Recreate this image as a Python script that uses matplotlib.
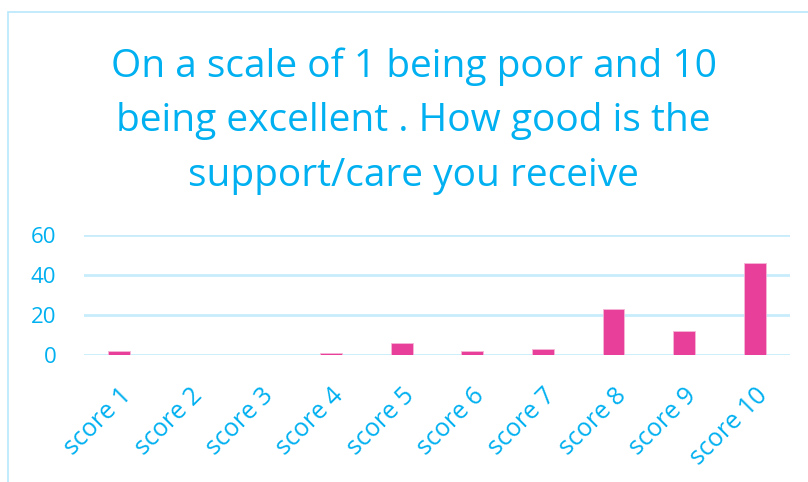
import matplotlib

matplotlib.use("Agg")
import matplotlib.pyplot as plt
from matplotlib.patches import Rectangle

categories = ["score 1", "score 2", "score 3", "score 4", "score 5",
              "score 6", "score 7", "score 8", "score 9", "score 10"]
counts = [2, 0, 0, 1, 6, 2, 3, 23, 12, 46]
y_ticks = [0, 20, 40, 60]

title = "On a scale of 1 being poor and 10\nbeing excellent . How good is the\nsupport/care you receive"

BLUE = "#00b0f0"
PINK = "#e8409a"
GRID = "#c8ecfb"

plt.rcParams["font.family"] = ["Open Sans", "DejaVu Sans"]

fig = plt.figure(figsize=(8.08, 4.82), dpi=100)
fig.patches.append(Rectangle((8 / 808, -0.1), 1.2, 1 - 12 / 482 + 0.1,
                             transform=fig.transFigure, fill=False,
                             edgecolor="#b8e8fb", linewidth=1.2))

ax = fig.add_axes([84 / 808, 1 - 355 / 482, 706 / 808, 120 / 482])
x = range(len(categories))
ax.bar(x, counts, width=0.31, color=PINK, edgecolor="#f5b6d6", linewidth=0.6, zorder=3)
ax.set_xlim(-0.5, len(categories) - 0.5)
ax.set_ylim(0, 60)
ax.set_yticks(y_ticks)
ax.yaxis.grid(True, color=GRID, linewidth=2, zorder=0)
ax.set_xticks(list(x))
ax.set_xticklabels(categories, rotation=45, ha="right", rotation_mode="anchor")
ax.tick_params(axis="both", length=0, colors=BLUE)
ax.tick_params(axis="y", pad=20, labelsize=16)
ax.tick_params(axis="x", pad=20, labelsize=18)
for side in ax.spines.values():
    side.set_visible(False)

fig.text(0.512, 1 - 121 / 482, title, ha="center", va="center",
         fontsize=28, color=BLUE, linespacing=1.56)

fig.savefig("out.png", dpi=100)
plt.close(fig)
